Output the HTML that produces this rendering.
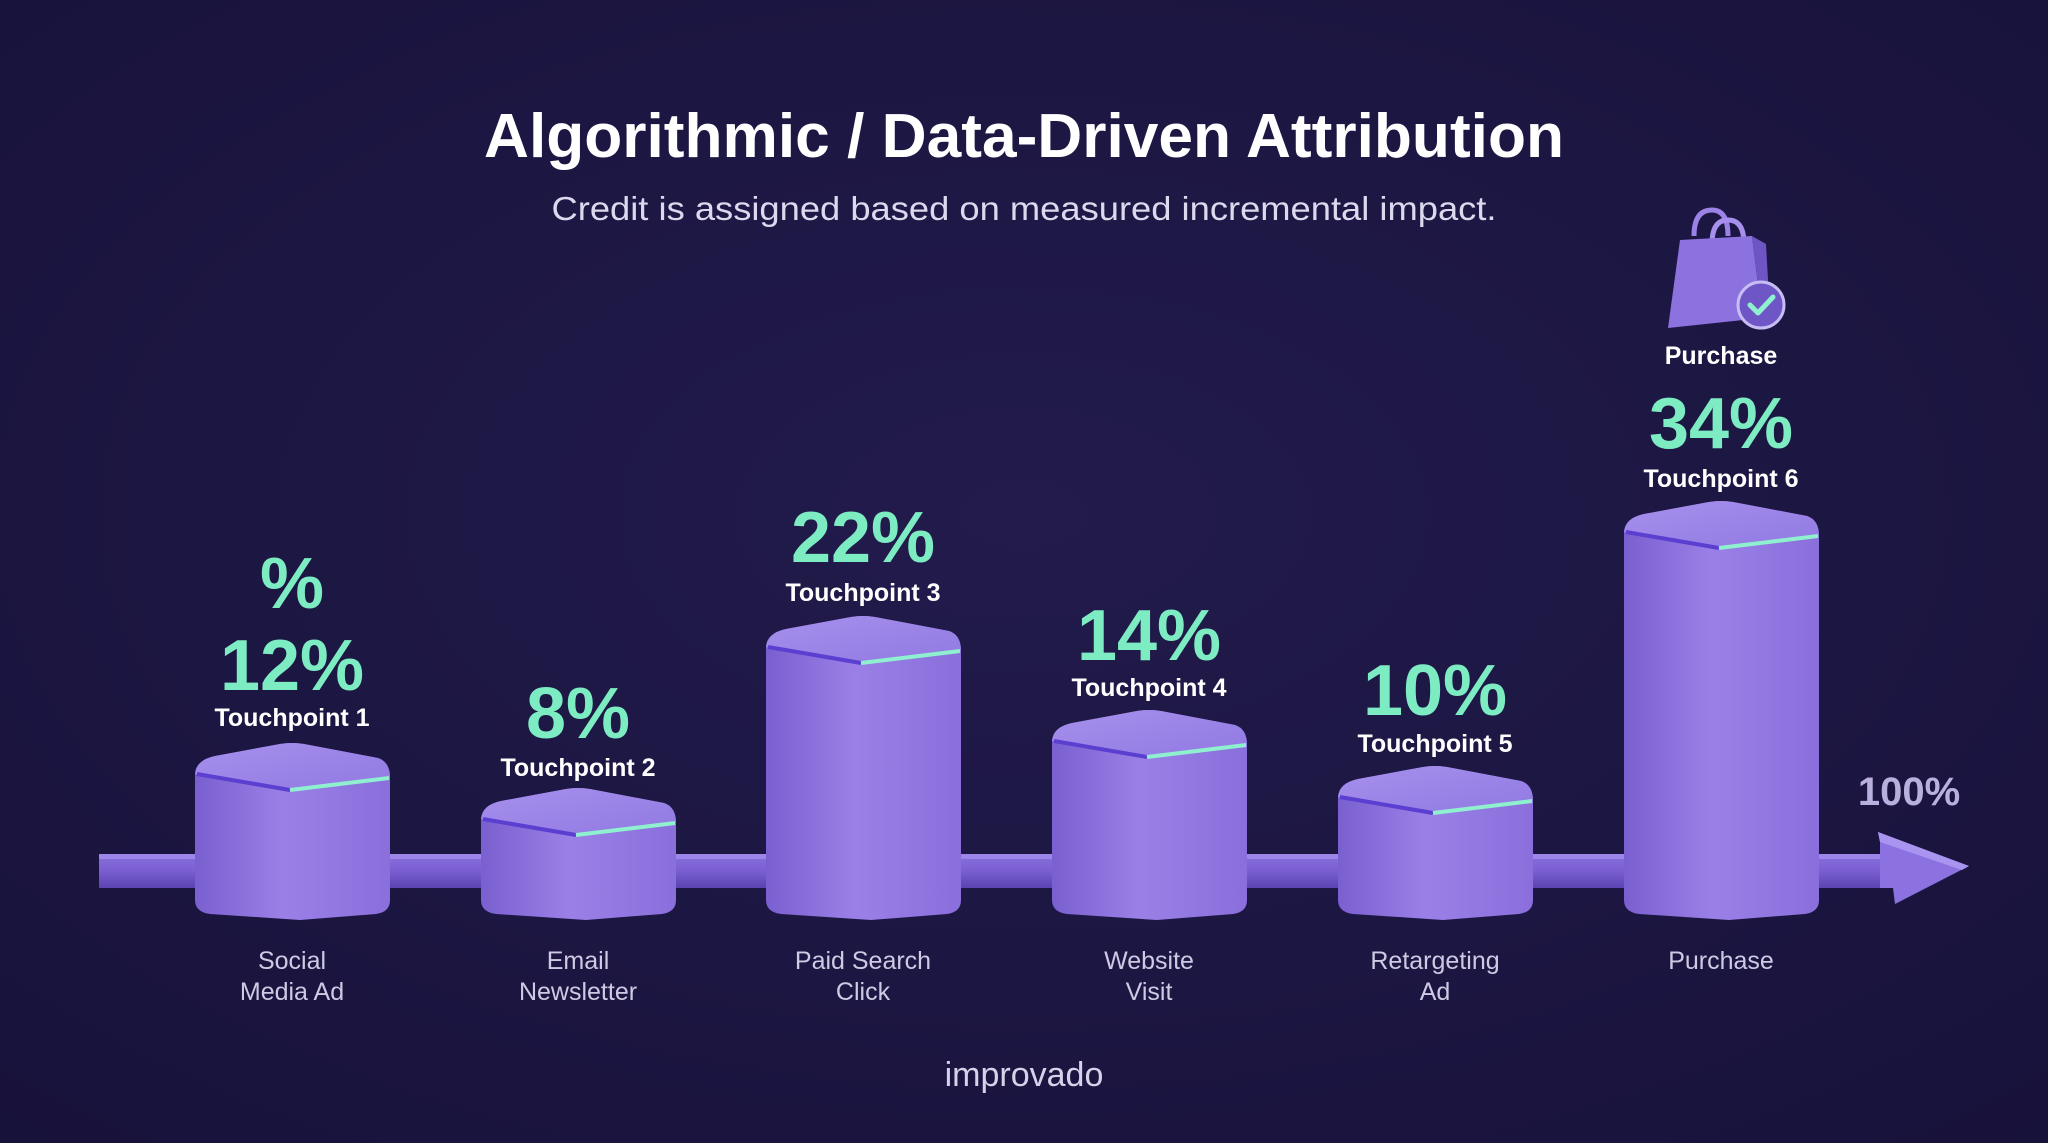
<!DOCTYPE html>
<html><head><meta charset="utf-8"><style>
html,body{margin:0;padding:0;background:#1c1741;}
svg{display:block}
text{font-family:"Liberation Sans",sans-serif}
</style></head><body>
<svg width="2048" height="1143" viewBox="0 0 2048 1143" xmlns="http://www.w3.org/2000/svg">
<defs>
<radialGradient id="bg" cx="50%" cy="45%" r="75%">
<stop offset="0" stop-color="#221b4c"/><stop offset="1" stop-color="#17123a"/>
</radialGradient>
<linearGradient id="front" x1="0" y1="0" x2="1" y2="0">
<stop offset="0" stop-color="#7a5fd0"/><stop offset="0.45" stop-color="#9a80e6"/><stop offset="1" stop-color="#8a6fdc"/>
</linearGradient>
<linearGradient id="frontv" x1="0" y1="0" x2="0" y2="1">
<stop offset="0" stop-color="#ffffff" stop-opacity="0.12"/><stop offset="1" stop-color="#3a2590" stop-opacity="0.25"/>
</linearGradient>
<linearGradient id="topf" x1="0" y1="0" x2="1" y2="1">
<stop offset="0" stop-color="#a690ec"/><stop offset="1" stop-color="#9179e2"/>
</linearGradient>
<linearGradient id="band" x1="0" y1="0" x2="0" y2="1">
<stop offset="0" stop-color="#8a6fdc"/><stop offset="0.5" stop-color="#7a5fd2"/><stop offset="1" stop-color="#5b43b0"/>
</linearGradient>
</defs>
<rect width="2048" height="1143" fill="url(#bg)"/>

<text x="1024" y="157" text-anchor="middle" font-size="62" font-weight="bold" fill="#ffffff" textLength="1080" lengthAdjust="spacingAndGlyphs">Algorithmic / Data-Driven Attribution</text>
<text x="1024" y="220" text-anchor="middle" font-size="33" fill="#dcd8ee" textLength="945" lengthAdjust="spacingAndGlyphs">Credit is assigned based on measured incremental impact.</text>

<!-- band + arrow -->
<rect x="99" y="854" width="1790" height="34" fill="url(#band)"/>
<rect x="99" y="854" width="1790" height="5" fill="#9d86ea"/>
<path d="M1880 842 L1878 832 L1969 866 L1895 904 L1893 888 L1880 888 Z" fill="#8c72e0"/>
<path d="M1878 832 L1969 866 L1962 870 L1880 842 Z" fill="#a994f0"/>

<!-- bars -->
<g id="bars">
</g>
<g>
<!-- bar template drawn per bar -->
<!-- bar1 cx292 T754 -->
<path d="M195 774 Q196 760 215 756 L280 744 Q292 742 304 744 L378 758 Q390 762 390 778 L390 900 Q390 912 376 914 L300 920 L210 914 Q195 912 195 900 Z" fill="url(#front)"/>
<path d="M195 774 Q196 760 215 756 L280 744 Q292 742 304 744 L378 758 Q390 762 390 778 L290 790 Z" fill="url(#topf)"/>
<path d="M197 774 L290 790" stroke="#5a3fd0" stroke-width="4"/><path d="M290 790 L389 778" stroke="#8ff0cf" stroke-width="4"/>

<path d="M481 819 Q482 805 501 801 L566 789 Q578 787 590 789 L664 803 Q676 807 676 823 L676 900 Q676 912 662 914 L586 920 L496 914 Q481 912 481 900 Z" fill="url(#front)"/>
<path d="M481 819 Q482 805 501 801 L566 789 Q578 787 590 789 L664 803 Q676 807 676 823 L576 835 Z" fill="url(#topf)"/>
<path d="M483 819 L576 835" stroke="#5a3fd0" stroke-width="4"/><path d="M576 835 L675 823" stroke="#8ff0cf" stroke-width="4"/>

<path d="M766 647 Q767 633 786 629 L851 617 Q863 615 875 617 L949 631 Q961 635 961 651 L961 900 Q961 912 947 914 L871 920 L781 914 Q766 912 766 900 Z" fill="url(#front)"/>
<path d="M766 647 Q767 633 786 629 L851 617 Q863 615 875 617 L949 631 Q961 635 961 651 L861 663 Z" fill="url(#topf)"/>
<path d="M768 647 L861 663" stroke="#5a3fd0" stroke-width="4"/><path d="M861 663 L960 651" stroke="#8ff0cf" stroke-width="4"/>

<path d="M1052 741 Q1053 727 1072 723 L1137 711 Q1149 709 1161 711 L1235 725 Q1247 729 1247 745 L1247 900 Q1247 912 1233 914 L1157 920 L1067 914 Q1052 912 1052 900 Z" fill="url(#front)"/>
<path d="M1052 741 Q1053 727 1072 723 L1137 711 Q1149 709 1161 711 L1235 725 Q1247 729 1247 745 L1147 757 Z" fill="url(#topf)"/>
<path d="M1054 741 L1147 757" stroke="#5a3fd0" stroke-width="4"/><path d="M1147 757 L1246 745" stroke="#8ff0cf" stroke-width="4"/>

<path d="M1338 797 Q1339 783 1358 779 L1423 767 Q1435 765 1447 767 L1521 781 Q1533 785 1533 801 L1533 900 Q1533 912 1519 914 L1443 920 L1353 914 Q1338 912 1338 900 Z" fill="url(#front)"/>
<path d="M1338 797 Q1339 783 1358 779 L1423 767 Q1435 765 1447 767 L1521 781 Q1533 785 1533 801 L1433 813 Z" fill="url(#topf)"/>
<path d="M1340 797 L1433 813" stroke="#5a3fd0" stroke-width="4"/><path d="M1433 813 L1532 801" stroke="#8ff0cf" stroke-width="4"/>

<path d="M1624 532 Q1625 518 1644 514 L1709 502 Q1721 500 1733 502 L1807 516 Q1819 520 1819 536 L1819 900 Q1819 912 1805 914 L1729 920 L1639 914 Q1624 912 1624 900 Z" fill="url(#front)"/>
<path d="M1624 532 Q1625 518 1644 514 L1709 502 Q1721 500 1733 502 L1807 516 Q1819 520 1819 536 L1719 548 Z" fill="url(#topf)"/>
<path d="M1626 532 L1719 548" stroke="#5a3fd0" stroke-width="4"/><path d="M1719 548 L1818 536" stroke="#8ff0cf" stroke-width="4"/>
</g>

<!-- value labels -->
<g fill="#7eecc3" font-weight="bold" text-anchor="middle" font-size="72">
<text x="292" y="608">%</text>
<text x="292" y="690">12%</text>
<text x="578" y="738">8%</text>
<text x="863" y="562">22%</text>
<text x="1149" y="660">14%</text>
<text x="1435" y="715">10%</text>
<text x="1721" y="448">34%</text>
</g>
<g fill="#ffffff" font-weight="bold" text-anchor="middle" font-size="25">
<text x="292" y="726">Touchpoint 1</text>
<text x="578" y="776">Touchpoint 2</text>
<text x="863" y="601">Touchpoint 3</text>
<text x="1149" y="696">Touchpoint 4</text>
<text x="1435" y="752">Touchpoint 5</text>
<text x="1721" y="487">Touchpoint 6</text>
<text x="1721" y="364">Purchase</text>
</g>
<text x="1909" y="805" text-anchor="middle" font-size="40" font-weight="bold" fill="#b9b0e0">100%</text>

<!-- bag icon -->
<g>
<path d="M1694 236 Q1694 210 1712 210 Q1728 210 1728 236" fill="none" stroke="#9a82e6" stroke-width="5"/>
<path d="M1712 244 Q1712 220 1728 220 Q1744 220 1744 244" fill="none" stroke="#a690ec" stroke-width="5"/>
<path d="M1680 240 L1752 236 L1762 318 L1668 328 Z" fill="#8c72df"/>
<path d="M1752 236 L1766 244 L1770 316 L1762 318 Z" fill="#6e55c4"/>
<circle cx="1761" cy="305" r="23" fill="#6f56c6" stroke="#c8bcf4" stroke-width="3"/>
<path d="M1750 305 L1758 313 L1773 297" fill="none" stroke="#8ff0cf" stroke-width="5" stroke-linecap="round" stroke-linejoin="round"/>
</g>

<!-- category labels -->
<g fill="#cfcae4" text-anchor="middle" font-size="25">
<text x="292" y="969">Social</text><text x="292" y="1000">Media Ad</text>
<text x="578" y="969">Email</text><text x="578" y="1000">Newsletter</text>
<text x="863" y="969">Paid Search</text><text x="863" y="1000">Click</text>
<text x="1149" y="969">Website</text><text x="1149" y="1000">Visit</text>
<text x="1435" y="969">Retargeting</text><text x="1435" y="1000">Ad</text>
<text x="1721" y="969">Purchase</text>
</g>
<text x="1024" y="1086" text-anchor="middle" font-size="34" fill="#d6d2ea">improvado</text>
</svg>
</body></html>
